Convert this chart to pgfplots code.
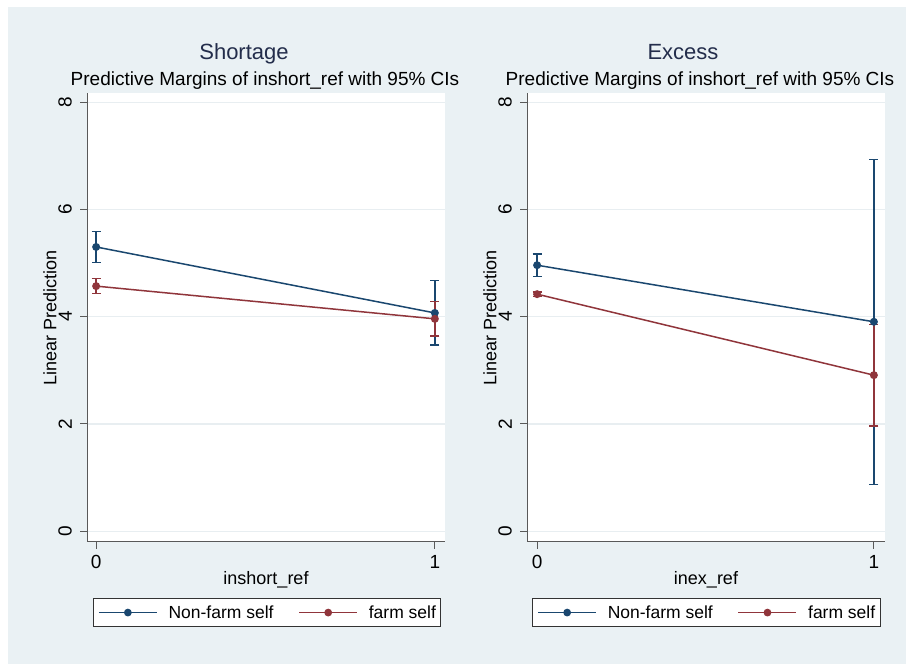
\documentclass[border=0pt]{standalone}
\usepackage{fontspec}
\setmainfont{Liberation Sans}
\usepackage{pgfplots}
\pgfplotsset{compat=1.18}
\definecolor{bgc}{RGB}{234,241,244}
\definecolor{gridc}{RGB}{232,238,241}
\definecolor{navyc}{RGB}{26,71,111}
\definecolor{maroonc}{RGB}{144,53,59}
\definecolor{titlec}{RGB}{35,45,75}
\newcommand{\fs}[1]{\fontsize{#1}{#1}\selectfont}
\pgfplotsset{
  stata/.style={
    scale only axis, width=358pt, height=449pt,
    ymin=-0.2, ymax=8.17,
    axis x line*=bottom, axis y line*=left,
    axis line style={-, black!65, line width=1pt},
    axis background/.style={fill=white},
    xtick={0,1}, ytick={0,2,4,6,8},
    ymajorgrids, grid style={color=gridc, line width=1.2pt},
    tick align=outside, major tick length=7pt,
    major tick style={black!65, line width=1pt},
    /pgf/number format/assume math mode=true,
    yticklabel style={rotate=90, anchor=south, font=\fs{19}, inner sep=0pt, yshift=8pt},
    xticklabel style={font=\fs{19}, inner sep=0pt, yshift=-6pt},
    every axis x label/.style={at={(axis description cs:0.5,0)}, yshift=-38pt, anchor=center, font=\fs{18}},
    every axis y label/.style={at={(axis description cs:0,0.5)}, xshift=-37pt, rotate=90, anchor=center, font=\fs{18}},
    legend columns=2,
    legend style={draw=black!80, line width=1pt, fill=white, anchor=north west,
      inner xsep=5pt, inner ysep=7pt, font=\fs{17.5},
      nodes={inner sep=0pt},
      /tikz/column sep=11pt,
      /tikz/every even column/.append style={column sep=25pt}},
    legend image code/.code={
      \draw[mark repeat=2, mark phase=2, #1, line width=1.3pt] plot coordinates {(0pt,0pt) (29pt,0pt) (58pt,0pt)};
    },
    error bars/y dir=both, error bars/y explicit,
    error bars/error bar style={line width=1.4pt},
  },
  nf/.style={navyc, line width=1.5pt, mark=*, mark size=3.2pt, mark options={fill=navyc, draw=navyc},
    error bars/error mark options={rotate=90, mark size=4.5pt, line width=1.4pt, navyc}},
  fm/.style={maroonc, line width=1.5pt, mark=*, mark size=3.2pt, mark options={fill=maroonc, draw=maroonc},
    error bars/error mark options={rotate=90, mark size=4.5pt, line width=1.4pt, maroonc}},
}
\begin{document}
\begin{tikzpicture}[x=1pt,y=1pt]
\fill[white] (0,0) rectangle (906,664);
\fill[bgc] (8,0) rectangle (906,657);
\useasboundingbox (0,0) rectangle (906,664);

\node[font=\fs{22}, text=titlec, anchor=base] at (244,604.5) {Shortage};
\node[font=\fs{19}, anchor=base] at (265,578) {Predictive Margins of inshort\_ref with 95\% CIs};
\node[font=\fs{22}, text=titlec, anchor=base] at (683,604.5) {Excess};
\node[font=\fs{19}, anchor=base] at (700,578) {Predictive Margins of inshort\_ref with 95\% CIs};

\begin{axis}[stata, at={(87pt,122pt)}, anchor=south west,
  xmin=-0.027, xmax=1.03,
  xlabel={inshort\_ref}, ylabel={Linear Prediction},
  legend style={at={(axis description cs:0.016,-0.1247)}}]
\addplot[nf] coordinates {(0,5.30) +- (0,0.29) (1,4.07) +- (0,0.60)};
\addlegendentry{Non-farm self}
\addplot[fm] coordinates {(0,4.57) +- (0,0.14) (1,3.96) +- (0,0.32)};
\addlegendentry{farm self}
\end{axis}

\begin{axis}[stata, at={(527pt,122pt)}, anchor=south west,
  xmin=-0.03, xmax=1.033,
  xlabel={inex\_ref}, ylabel={Linear Prediction},
  legend style={at={(axis description cs:0.014,-0.1247)}}]
\addplot[nf] coordinates {(0,4.96) +- (0,0.21) (1,3.905) +- (0,3.03)};
\addlegendentry{Non-farm self}
\addplot[fm] coordinates {(0,4.42) +- (0,0.04) (1,2.91) +- (0,0.95)};
\addlegendentry{farm self}
\end{axis}
\end{tikzpicture}
\end{document}
